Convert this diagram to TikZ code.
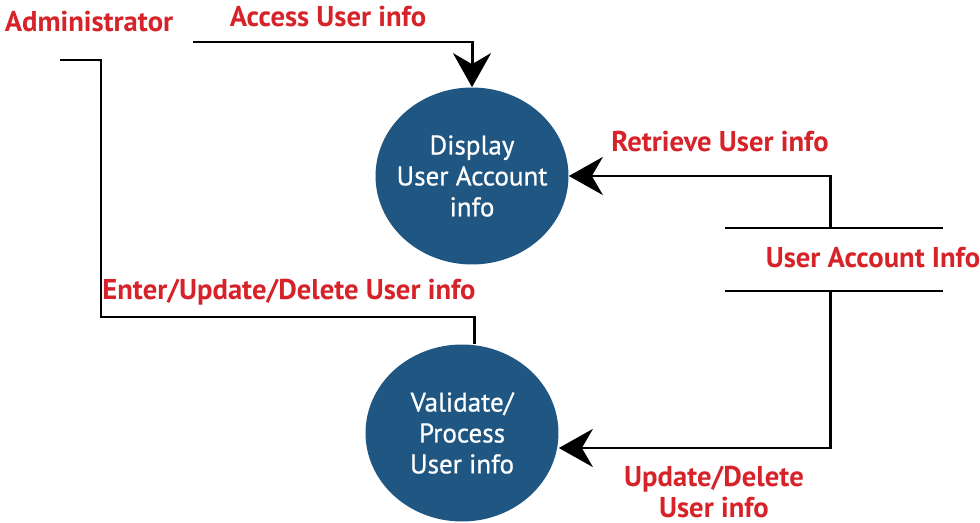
\documentclass[tikz,border=0pt]{standalone}
\usepackage{fontspec}
\setmainfont{PT Sans}
\newfontfamily\procfont[FakeBold=0.7]{PT Sans}
\usetikzlibrary{arrows.meta,shapes.geometric}
\definecolor{procblue}{RGB}{31,86,130}
\definecolor{lblred}{RGB}{214,35,42}
\begin{document}
\begin{tikzpicture}[>={Stealth[length=0.68cm,width=0.76cm,inset=0.22cm]},x=0.02cm,y=-0.02cm,
	proc/.style={ellipse,fill=procblue,text=white,minimum width=3.86cm,minimum height=3.54cm,inner xsep=-0.2cm,inner ysep=0pt,align=center,font=\procfont\fontsize{15.4}{17.6}\selectfont},
	lbl/.style={text=lblred,font=\bfseries\fontsize{16.3}{17.6}\selectfont,inner sep=0pt,align=center},
	flow/.style={line width=1.7pt}]
	\useasboundingbox (0,0) rectangle (980,523);
	% processes
	\node[proc] (disp) at (472,176) {Display\\User Account\\info};
	\node[proc] (valid) at (462,433) {Validate/\\Process\\User info};
	% labels
	\node[lbl] (admin) at (89,22) {Administrator};
	\node[lbl] (access) at (328,17) {Access User info};
	\node[lbl] (retr) at (720,142) {Retrieve User info};
	\node[lbl] (store) at (873,258) {User Account Info};
	\node[lbl] (enter) at (289,292) {Enter/Update/Delete User info};
	\node[lbl] (upd) at (714,492) {Update/Delete\\User info};
	% data store
	\coordinate (st1) at (725,228);
	\coordinate (st2) at (943,228);
	\coordinate (sb1) at (725,291);
	\coordinate (sb2) at (943,291);
	\draw[flow] (st1) -- (st2);
	\draw[flow] (sb1) -- (sb2);
	% flows
	\coordinate (adm) at (60,60);
	\coordinate (acc) at (193,42);
	\coordinate (entr) at (474,317);
	\coordinate (stout) at (830,228);
	\coordinate (stin) at (830,291);
	\coordinate (bend) at (830,448);
	\draw[flow,->] (acc) -| (disp.north);
	\draw[flow,->] (stout) |- (disp.east);
	\draw[flow,->] (stin) -- (bend) -- (bend -| valid.east);
	\draw[flow] (adm) -- (101,60) -- (101,317) -- (entr) -- (entr |- valid.north);
\end{tikzpicture}
\end{document}
